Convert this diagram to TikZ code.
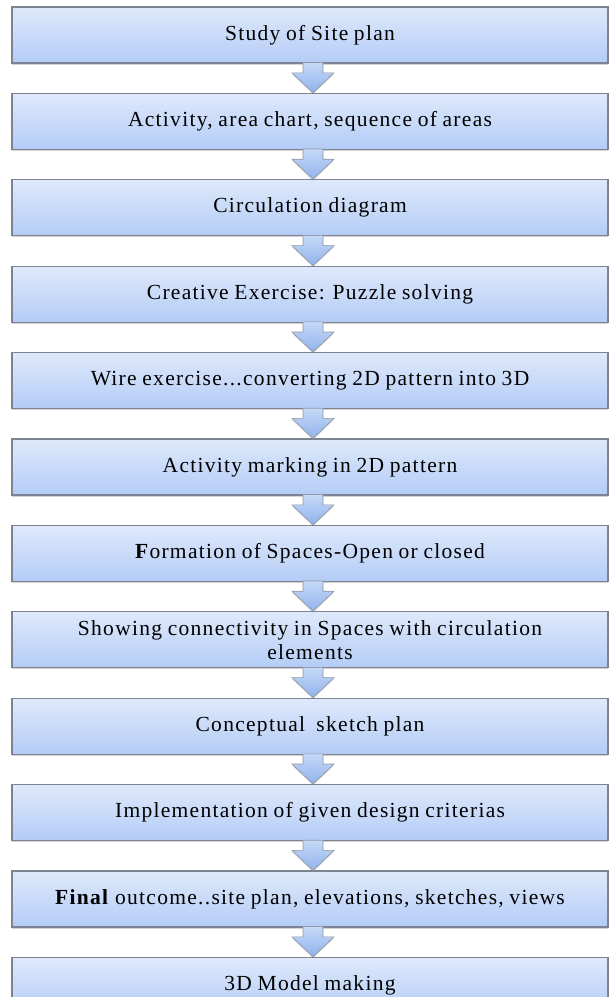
\documentclass[tikz,border=0pt]{standalone}
\usepackage{fontspec}
\setmainfont[LetterSpace=6, WordSpace=0.85]{Liberation Serif}
\usetikzlibrary{positioning,calc,shadows}

\definecolor{boxtop}{HTML}{DFE9FB}
\definecolor{boxbot}{HTML}{B3CCF6}
\definecolor{boxline}{HTML}{7D8390}
\definecolor{arrtop}{HTML}{C6D9F8}
\definecolor{arrbot}{HTML}{90B3EC}

\tikzset{
  stepbox/.style={draw=boxline, line width=1.2pt, top color=boxtop, bottom color=boxbot,
    minimum width=596pt, minimum height=56pt, inner sep=2pt, align=center,
    font=\fontsize{21.5}{24}\selectfont,
    drop shadow={opacity=0.35, shadow xshift=0pt, shadow yshift=-1.5pt}},
  flowarrow/.style={draw=boxline!85, line width=0.6pt, top color=arrtop, bottom color=arrbot,
    drop shadow={opacity=0.3, shadow xshift=0pt, shadow yshift=-1.5pt}}
}

\begin{document}
\begin{tikzpicture}[x=1pt, y=1pt, node distance=29.2pt]
\useasboundingbox (0,0) rectangle (610,-997);
\clip (0,0) rectangle (610,-997);

\node[stepbox] (site) at (310,-35) {Study of Site plan};
\node[stepbox, below=of site] (activity) {Activity, area chart, sequence of areas};
\node[stepbox, below=of activity] (circulation) {Circulation diagram};
\node[stepbox, below=of circulation] (puzzle) {Creative Exercise: Puzzle solving};
\node[stepbox, below=of puzzle] (wire) {Wire exercise...converting 2D pattern into 3D};
\node[stepbox, below=of wire] (marking) {Activity marking in 2D pattern};
\node[stepbox, below=of marking] (formation) {\textbf{F}ormation of Spaces-Open or closed};
\node[stepbox, below=of formation] (connect) {Showing connectivity in Spaces with circulation\\elements};
\node[stepbox, below=of connect] (concept) {Conceptual\ \ sketch plan};
\node[stepbox, below=of concept] (criteria) {Implementation of given design criterias};
\node[stepbox, below=of criteria] (outcome) {\textbf{Final} outcome..site plan, elevations, sketches, views};
\node[stepbox, below=of outcome] (model) {3D Model making};

% block arrows between the steps
\foreach \a/\b in {site/activity, activity/circulation, circulation/puzzle, puzzle/wire,
  wire/marking, marking/formation, formation/connect, connect/concept,
  concept/criteria, criteria/outcome, outcome/model}
  \draw[flowarrow] ($(\a.south)+(-7,1)$) -- ($(\b.north)+(-7,20)$) -- ++(-11,0)
    -- ($(\b.north)+(3,0)$) -- ($(\b.north)+(24,20)$) -- ++(-11,0)
    -- ($(\a.south)+(13,1)$) -- cycle;
\end{tikzpicture}
\end{document}
